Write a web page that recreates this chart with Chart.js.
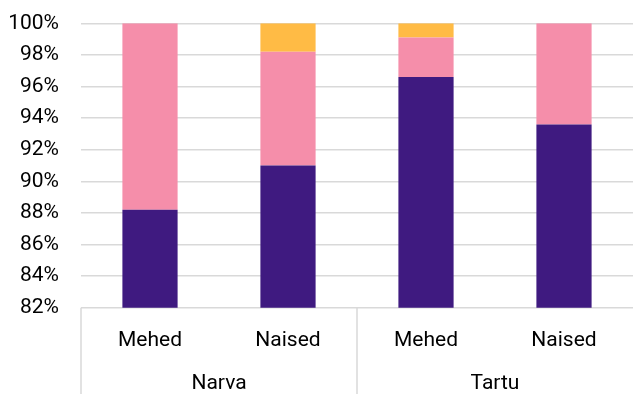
<!DOCTYPE html>
<html>
<head>
<meta charset="utf-8">
<script src="https://cdn.jsdelivr.net/npm/chart.js@4"></script>
<style>
  html, body { margin: 0; padding: 0; background: #fff; }
  #wrap { width: 633px; height: 394px; }
</style>
</head>
<body>
<div id="wrap"><canvas id="chart"></canvas></div>
<script>
// data
const categories = ['Mehed', 'Naised', 'Mehed', 'Naised'];
const groups = ['Narva', 'Tartu'];
const seriesA = [88.2, 91.0, 96.6, 93.6];
const seriesB = [11.8, 7.2, 2.5, 6.4];
const seriesC = [0, 1.8, 0.9, 0];
const yTicks = [82, 84, 86, 88, 90, 92, 94, 96, 98, 100];

const gridColor = '#d9d9d9';
const font = { family: "Roboto, 'Noto Sans', sans-serif", size: 21 };

// vertical separators for the two-level category axis
const groupLines = {
  id: 'groupLines',
  afterDraw(chart) {
    const ctx = chart.ctx;
    const x = chart.scales.x;
    const area = chart.chartArea;
    const mid = (x.getPixelForValue(1) + x.getPixelForValue(2)) / 2;
    ctx.save();
    ctx.strokeStyle = gridColor;
    ctx.lineWidth = 1.5;
    [area.left, mid].forEach(px => {
      ctx.beginPath();
      ctx.moveTo(px, area.bottom);
      ctx.lineTo(px, chart.height);
      ctx.stroke();
    });
    ctx.restore();
  }
};

new Chart(document.getElementById('chart'), {
  type: 'bar',
  data: {
    labels: categories,
    datasets: [
      { label: 'A', data: seriesA, backgroundColor: '#3f1a80' },
      { label: 'B', data: seriesB, backgroundColor: '#f58eaa' },
      { label: 'C', data: seriesC, backgroundColor: '#ffbb45' }
    ]
  },
  options: {
    responsive: true,
    maintainAspectRatio: false,
    animation: false,
    layout: { padding: { left: 9, top: 0, right: 0, bottom: 0 } },
    datasets: { bar: { categoryPercentage: 1, barPercentage: 0.4, borderWidth: 0 } },
    plugins: { legend: { display: false }, tooltip: { enabled: false } },
    scales: {
      x: {
        stacked: true,
        grid: { display: false, drawTicks: false },
        border: { display: false },
        ticks: { color: '#000', font: font, padding: 20, maxRotation: 0 }
      },
      x2: {
        type: 'category',
        labels: groups,
        position: 'bottom',
        grid: { display: false, drawTicks: false },
        border: { display: false },
        ticks: { color: '#000', font: { ...font, lineHeight: 1 }, padding: 0, maxRotation: 0 }
      },
      y: {
        stacked: true,
        min: 82,
        max: 100,
        afterBuildTicks: axis => { axis.ticks = yTicks.map(v => ({ value: v })); },
        afterFit: axis => { axis.width = 72; axis.paddingTop = 23.3; },
        grid: { color: gridColor, lineWidth: 1.5, drawTicks: false },
        border: { display: false },
        ticks: { color: '#000', font: font, padding: 22, callback: v => v + '%' }
      }
    }
  },
  plugins: [groupLines]
});
</script>
</body>
</html>
